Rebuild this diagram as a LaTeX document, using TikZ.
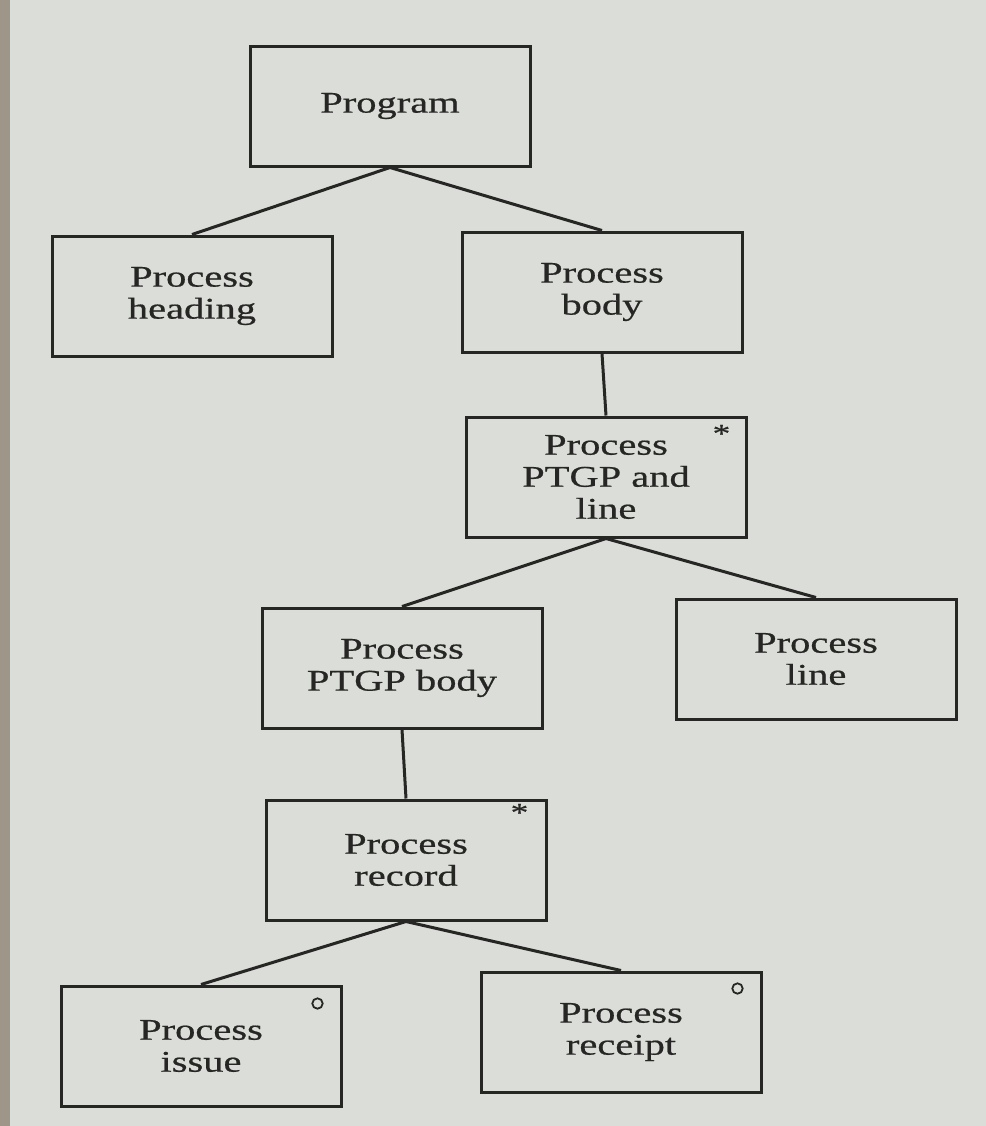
\documentclass[tikz,border=0pt]{standalone}
\usepackage{fontspec}
\setmainfont{Liberation Serif}[FakeStretch=1.35,FakeBold=0.6]
\begin{document}
\begin{tikzpicture}[x=0.5pt,y=-0.5pt,
  box/.style={draw=ink, line width=1.5pt, fill=paper, minimum width=140pt, minimum height=60pt,
    align=center, inner sep=2pt, font=\fontsize{15}{16}\selectfont, text=ink},
  link/.style={draw=ink, line width=1.5pt},
  iter/.style={font=\fontsize{13}{13}\selectfont, text=ink, inner sep=0pt},
  sel/.style={draw=ink, line width=0.9pt}]
\definecolor{paper}{RGB}{218,221,216}
\definecolor{ink}{RGB}{38,38,36}
\definecolor{edge}{RGB}{158,150,136}
% page background
\fill[paper] (0,0) rectangle (986,1126);
\fill[edge] (0,0) rectangle (10,1126);
\useasboundingbox (0,0) rectangle (986,1126);

% boxes
\node[box] (prog)   at (390,106)  {Program};
\node[box] (head)   at (192,296)  {Process\\heading};
\node[box] (body)   at (602,292)  {Process\\body};
\node[box] (ptgpl)  at (606,477)  {Process\\PTGP and\\line};
\node[box] (ptgpb)  at (402,668)  {Process\\PTGP body};
\node[box] (line)   at (816,659)  {Process\\line};
\node[box] (rec)    at (406,860)  {Process\\record};
\node[box] (issue)  at (201,1046) {Process\\issue};
\node[box] (rcpt)   at (621,1032) {Process\\receipt};

% connectors
\draw[link] (prog.south) -- (head.north);
\draw[link] (prog.south) -- (body.north);
\draw[link] (body.south) -- (ptgpl.north);
\draw[link] (ptgpl.south) -- (ptgpb.north);
\draw[link] (ptgpl.south) -- (line.north);
\draw[link] (ptgpb.south) -- (rec.north);
\draw[link] (rec.south) -- (issue.north);
\draw[link] (rec.south) -- (rcpt.north);

% iteration and selection marks
\node[iter] (m1) at ([xshift=-13pt,yshift=-9pt]ptgpl.north east) {*};
\node[iter] (m2) at ([xshift=-14pt,yshift=-7pt]rec.north east) {*};
\draw[sel] ([xshift=-12.5pt,yshift=-9.5pt]issue.north east) circle (2.6pt);
\draw[sel] ([xshift=-12.5pt,yshift=-9pt]rcpt.north east) circle (2.6pt);
\end{tikzpicture}
\end{document}
